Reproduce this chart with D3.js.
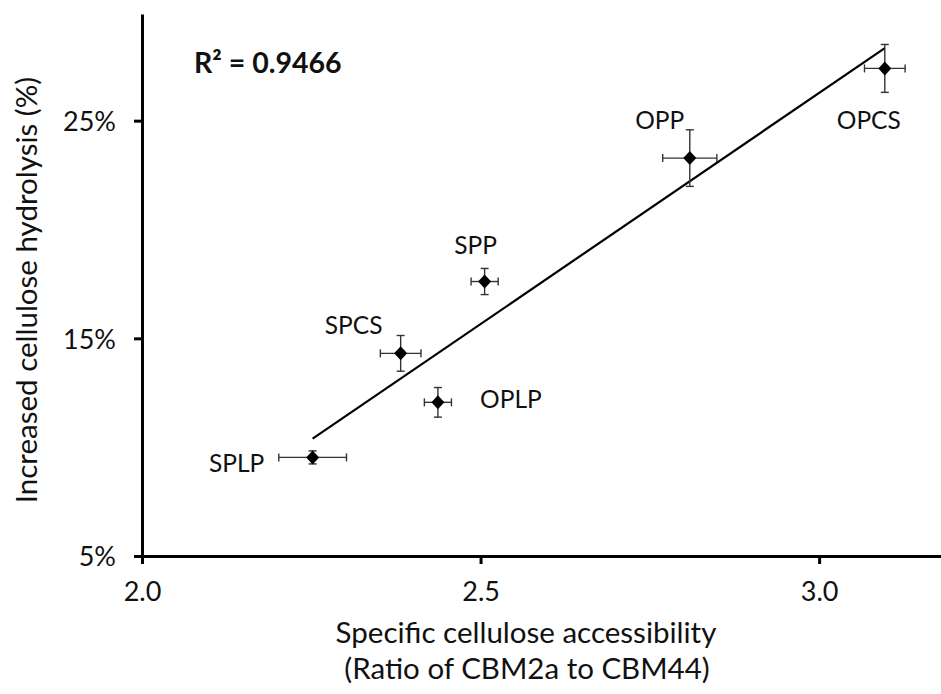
<!DOCTYPE html>
<html>
<head>
<meta charset="utf-8">
<script src="https://cdn.jsdelivr.net/npm/d3@7"></script>
<style>
  body { margin: 0; background: #fff; }
  text { font-family: Lato, "Open Sans", sans-serif; fill: #111; }
</style>
</head>
<body>
<script>
// chart size
var w = 941;
var h = 694;

/*** Data ***/
var samples = ["SPLP", "SPCS", "OPLP", "SPP", "OPP", "OPCS"];
var accessibility = [2.252, 2.382, 2.437, 2.506, 2.809, 3.097];
var accessErr = [0.05, 0.03, 0.02, 0.02, 0.04, 0.03];
var hydrolysis = [9.53, 14.31, 12.06, 17.61, 23.28, 27.40];
var hydroErr = [0.3, 0.82, 0.68, 0.6, 1.3, 1.1];
var xTicks = [2.0, 2.5, 3.0];
var yTicks = [5, 15, 25];
// label offsets relative to the point (dx, dy)
var labelPos = [[-76, 6], [-47, -28], [73, -3], [-9, -36], [-30, -38], [-16, 52]];

var pts = samples.map(function(s, i) {
  return { name: s, x: accessibility[i], y: hydrolysis[i], ex: accessErr[i], ey: hydroErr[i],
           lx: labelPos[i][0], ly: labelPos[i][1] };
});

var svg = d3.select("body").append("svg")
  .attr("width", w).attr("height", h);

/*** Scales ***/
var xScale = d3.scaleLinear().domain([2.0, 3.18]).range([142, 941]);
var yScale = d3.scaleLinear().domain([5, 29.9]).range([556, 14]);

/*** Axes ***/
var xAxis = d3.axisBottom(xScale).tickValues(xTicks)
  .tickFormat(d3.format(".1f")).tickSizeInner(8).tickSizeOuter(0).tickPadding(18);
var yAxis = d3.axisLeft(yScale).tickValues(yTicks)
  .tickFormat(function(d) { return d + "%"; }).tickSizeInner(8).tickSizeOuter(0).tickPadding(18);

var gx = svg.append("g")
  .attr("transform", "translate(0," + yScale(5) + ")")
  .call(xAxis);
var gy = svg.append("g")
  .attr("transform", "translate(" + xScale(2.0) + ",0)")
  .call(yAxis);

svg.selectAll(".domain, .tick line").attr("stroke", "#000").attr("stroke-width", 3);
svg.selectAll(".tick text").attr("font-size", 27).attr("fill", "#111")
  .style("font-family", "Lato, 'Open Sans', sans-serif");
gy.selectAll(".tick text").attr("dy", "0.36em");

/*** Trendline (least squares of the points) ***/
var mx = d3.mean(pts, function(d) { return d.x; });
var my = d3.mean(pts, function(d) { return d.y; });
var sxy = d3.sum(pts, function(d) { return (d.x - mx) * (d.y - my); });
var sxx = d3.sum(pts, function(d) { return (d.x - mx) * (d.x - mx); });
var slope = sxy / sxx;
var icpt = my - slope * mx;
var xExt = d3.extent(pts, function(d) { return d.x; });
svg.append("path")
  .datum(xExt.map(function(x) { return [x, icpt + slope * x]; }))
  .attr("d", d3.line().x(function(d) { return xScale(d[0]); }).y(function(d) { return yScale(d[1]); }))
  .attr("stroke", "#000").attr("stroke-width", 2.2).attr("fill", "none");

/*** Error bars ***/
var cap = 4;
var eb = svg.append("g").attr("stroke", "#333").attr("stroke-width", 1.4);
pts.forEach(function(d) {
  var cx = xScale(d.x), cy = yScale(d.y);
  var x0 = xScale(d.x - d.ex), x1 = xScale(d.x + d.ex);
  var y0 = yScale(d.y - d.ey), y1 = yScale(d.y + d.ey);
  eb.append("line").attr("x1", x0).attr("x2", x1).attr("y1", cy).attr("y2", cy);
  eb.append("line").attr("x1", x0).attr("x2", x0).attr("y1", cy - cap).attr("y2", cy + cap);
  eb.append("line").attr("x1", x1).attr("x2", x1).attr("y1", cy - cap).attr("y2", cy + cap);
  eb.append("line").attr("x1", cx).attr("x2", cx).attr("y1", y0).attr("y2", y1);
  eb.append("line").attr("x1", cx - cap).attr("x2", cx + cap).attr("y1", y0).attr("y2", y0);
  eb.append("line").attr("x1", cx - cap).attr("x2", cx + cap).attr("y1", y1).attr("y2", y1);
});

/*** Diamond markers ***/
svg.selectAll(".pt").data(pts).enter().append("path")
  .attr("class", "pt")
  .attr("transform", function(d) { return "translate(" + xScale(d.x) + "," + yScale(d.y) + ")"; })
  .attr("d", "M0,-7L6.5,0L0,7L-6.5,0Z")
  .attr("fill", "#000");

/*** Point labels ***/
svg.selectAll(".lab").data(pts).enter().append("text")
  .attr("class", "lab")
  .attr("x", function(d) { return xScale(d.x) + d.lx; })
  .attr("y", function(d) { return yScale(d.y) + d.ly; })
  .attr("text-anchor", "middle")
  .attr("dy", "0.36em")
  .attr("font-size", 24.5)
  .text(function(d) { return d.name; });

/*** R squared ***/
svg.append("text")
  .attr("x", 194).attr("y", 73)
  .attr("font-size", 28.5).attr("font-weight", "bold")
  .text("R² = 0.9466");

/*** Axis titles ***/
svg.append("text")
  .attr("transform", "translate(37,290) rotate(-90)")
  .attr("text-anchor", "middle")
  .attr("font-size", 29.5)
  .text("Increased cellulose hydrolysis (%)");
svg.append("text")
  .attr("x", 526).attr("y", 643)
  .attr("text-anchor", "middle").attr("font-size", 29.5)
  .text("Specific cellulose accessibility");
svg.append("text")
  .attr("x", 527).attr("y", 679)
  .attr("text-anchor", "middle").attr("font-size", 29.5)
  .text("(Ratio of CBM2a to CBM44)");
</script>
</body>
</html>
